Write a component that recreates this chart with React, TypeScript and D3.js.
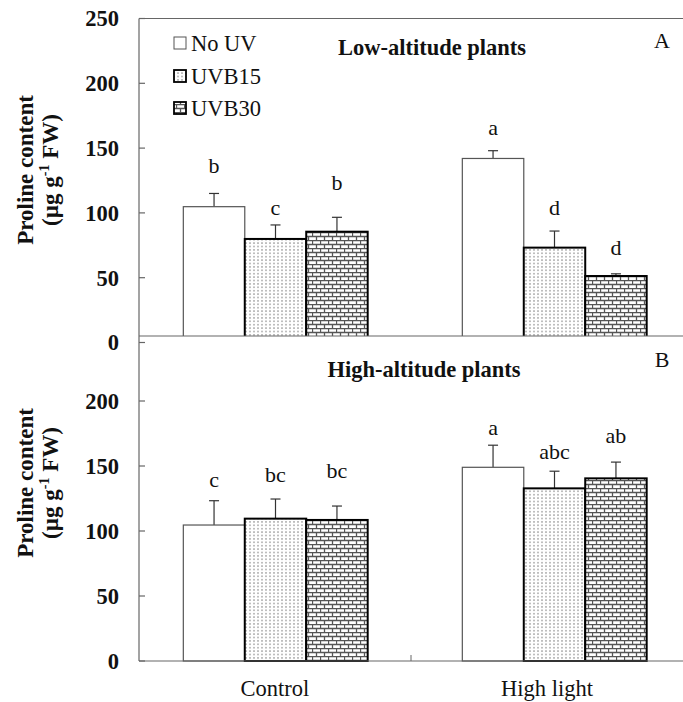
import React from "react";
import * as d3 from "d3";

const categories = ["Control", "High light"];
const series = ["No UV", "UVB15", "UVB30"];

const lowMeans = [
  [104.8, 79.9, 85.5],
  [142, 73.2, 51.3],
];
const lowErrors = [
  [10.2, 10.8, 11.1],
  [6, 12.8, 1.7],
];
const lowLetters = [
  ["b", "c", "b"],
  ["a", "d", "d"],
];
const lowLetterAt = [
  [130.8, 98.4, 117.7],
  [160.1, 98.4, 67.5],
];

const highMeans = [
  [104.6, 109.5, 108.5],
  [149, 132.8, 140.5],
];
const highErrors = [
  [18.7, 15.1, 10.7],
  [17, 13.2, 12.5],
];
const highLetters = [
  ["c", "bc", "bc"],
  ["a", "abc", "ab"],
];
const highLetterAt = [
  [134, 138, 140.8],
  [173.8, 155.4, 167.7],
];

const yTicksA = [0, 50, 100, 150, 200, 250];
const yTicksB = [0, 50, 100, 150, 200];

const W = 683;
const H = 702;
const FONT = "'Liberation Serif', 'DejaVu Serif', serif";
const AXIS = "#666";

const xCat = d3.scaleBand<string>().domain(categories).range([139, 683]);
const xBars = d3.scaleBand<string>().domain(categories).range([136, 694]);
const xInner = d3
  .scaleBand<string>()
  .domain(series)
  .range([0, xBars.bandwidth()])
  .paddingInner(0)
  .paddingOuter(0.77);

const yA = d3.scaleLinear().domain([0, 250]).range([342.5, 18.5]);
const yB = d3.scaleLinear().domain([0, 250]).range([661, 336]);

const fills = ["#fff", "url(#dots)", "url(#bricks)"];
const strokes = ["#555", "#000", "#000"];
const strokeW = [1.2, 2, 2];

function Panel({ y, means, errors, letters, letterAt, clipId }: any) {
  return (
    <g clipPath={`url(#${clipId})`}>
      {categories.map((c, ci) =>
        series.map((s, si) => {
          const x0 = (xBars(c) as number) + (xInner(s) as number);
          const bw = xInner.bandwidth();
          const v = means[ci][si];
          const top = y(v);
          const base = y(0);
          const et = y(v + errors[ci][si]);
          const cx = x0 + bw / 2;
          return (
            <g key={c + s}>
              <line x1={cx} x2={cx} y1={top} y2={et} stroke="#333" strokeWidth={1.2} />
              <line x1={cx - 5} x2={cx + 5} y1={et} y2={et} stroke="#333" strokeWidth={1.2} />
              <rect
                x={x0}
                y={top}
                width={bw}
                height={base - top}
                fill={fills[si]}
                stroke={strokes[si]}
                strokeWidth={strokeW[si]}
              />
              <text
                x={cx}
                y={y(letterAt[ci][si])}
                textAnchor="middle"
                fontFamily={FONT}
                fontSize={22}
                fill="#111"
              >
                {letters[ci][si]}
              </text>
            </g>
          );
        })
      )}
    </g>
  );
}

function YLabel({ cy }: { cy: number }) {
  return (
    <g fontFamily={FONT} fontWeight="bold" fontSize={23} fill="#111">
      <text transform={`translate(33,${cy}) rotate(-90)`} textAnchor="middle">
        Proline content
      </text>
      <text transform={`translate(58,${cy}) rotate(-90)`} textAnchor="middle">
        (µg g
        <tspan fontSize={14} dy={-9}>-1</tspan>
        <tspan dy={9}> FW)</tspan>
      </text>
    </g>
  );
}

export default function App() {
  const tickLabel = (t: number, yy: number, key: string) => (
    <g key={key}>
      <line x1={139} x2={145} y1={yy} y2={yy} stroke={AXIS} strokeWidth={1.2} />
      <text
        x={119}
        y={yy}
        dy="0.35em"
        textAnchor="end"
        fontFamily={FONT}
        fontWeight="bold"
        fontSize={22.5}
        fill="#111"
      >
        {t}
      </text>
    </g>
  );

  const legendY = [43, 76, 108];

  return (
    <svg
      width={W}
      height={H}
      style={{ position: "absolute", left: 0, top: 0, background: "#fff" }}
    >
      <defs>
        <pattern id="dots" width={4} height={3.4} patternUnits="userSpaceOnUse">
          <rect width={4} height={3.4} fill="#fff" />
          <rect x={1.5} y={1.2} width={1} height={1} fill="#222" />
        </pattern>
        <pattern id="bricks" width={8} height={8} patternUnits="userSpaceOnUse">
          <rect width={8} height={8} fill="#fff" />
          <path
            d="M0,0.5H8M0,4.5H8M0.5,0.5V4.5M4.5,4.5V8.5"
            stroke="#555"
            strokeWidth={1.3}
            fill="none"
          />
        </pattern>
        <clipPath id="clipA">
          <rect x={139} y={10} width={560} height={326} />
        </clipPath>
        <clipPath id="clipB">
          <rect x={139} y={336} width={560} height={330} />
        </clipPath>
      </defs>

      <Panel y={yA} means={lowMeans} errors={lowErrors} letters={lowLetters} letterAt={lowLetterAt} clipId="clipA" />
      <Panel y={yB} means={highMeans} errors={highErrors} letters={highLetters} letterAt={highLetterAt} clipId="clipB" />

      {/* frame lines */}
      <line x1={139} x2={W} y1={yA(250)} y2={yA(250)} stroke={AXIS} strokeWidth={1.2} />
      <line x1={139} x2={W} y1={yB(250)} y2={yB(250)} stroke={AXIS} strokeWidth={1.2} />
      <line x1={139} x2={W} y1={yB(0)} y2={yB(0)} stroke={AXIS} strokeWidth={1.2} />
      <line x1={139} x2={139} y1={yA(250)} y2={yB(0)} stroke={AXIS} strokeWidth={1.2} />

      {yTicksA.map((t) => tickLabel(t, yA(t), "a" + t))}
      {yTicksB.map((t) => tickLabel(t, yB(t), "b" + t))}

      {/* category separator tick */}
      <line
        x1={(xCat("High light") as number)}
        x2={(xCat("High light") as number)}
        y1={yB(0)}
        y2={yB(0) - 6}
        stroke={AXIS}
        strokeWidth={1}
      />

      {categories.map((c) => (
        <text
          key={c}
          x={(xCat(c) as number) + xCat.bandwidth() / 2}
          y={696}
          textAnchor="middle"
          fontFamily={FONT}
          fontSize={22.5}
          fill="#111"
        >
          {c}
        </text>
      ))}

      <YLabel cy={170} />
      <YLabel cy={483} />

      {/* titles */}
      <text x={432} y={55} textAnchor="middle" fontFamily={FONT} fontWeight="bold" fontSize={22.5} fill="#111">
        Low-altitude plants
      </text>
      <text x={424} y={377} textAnchor="middle" fontFamily={FONT} fontWeight="bold" fontSize={22.5} fill="#111">
        High-altitude plants
      </text>
      <text x={662} y={48} textAnchor="middle" fontFamily={FONT} fontSize={22} fill="#111">
        A
      </text>
      <text x={662} y={367} textAnchor="middle" fontFamily={FONT} fontSize={22} fill="#111">
        B
      </text>

      {/* legend */}
      {series.map((s, i) => (
        <g key={s}>
          <rect
            x={174}
            y={legendY[i] - 6}
            width={12}
            height={12}
            fill={fills[i]}
            stroke={i === 0 ? "#555" : "#000"}
            strokeWidth={i === 0 ? 1 : 1.8}
          />
          <text
            x={191}
            y={legendY[i]}
            dy="0.35em"
            fontFamily={FONT}
            fontSize={22.5}
            fill="#111"
          >
            {s}
          </text>
        </g>
      ))}
    </svg>
  );
}
